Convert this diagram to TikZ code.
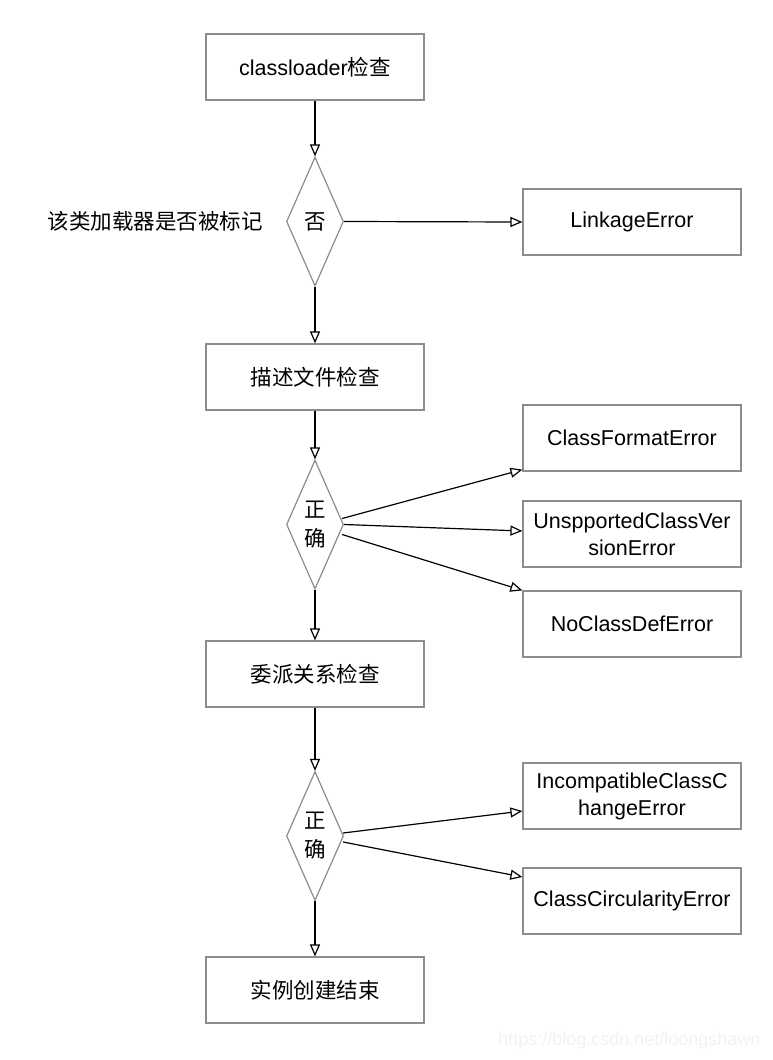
\documentclass[tikz,border=0pt]{standalone}
\usepackage{fontspec}
\setmainfont{Liberation Sans}
\newfontfamily\cjk{Noto Sans CJK SC}
\usetikzlibrary{shapes.geometric,arrows.meta,calc}
\definecolor{boxgray}{RGB}{140,140,140}
\begin{document}
\begin{tikzpicture}[x=1pt,y=-1pt,
  every node/.style={font=\fontsize{21.5}{27}\selectfont},
  procbox/.style={draw=boxgray,line width=1.2pt,minimum width=218pt,minimum height=66pt,inner sep=0pt,align=center},
  decision/.style={draw=boxgray,line width=1.2pt,diamond,shape aspect=0.44,minimum width=57pt,minimum height=129pt,inner sep=0pt,align=center,font=\cjk\fontsize{21.5}{29}\selectfont},
  flow/.style={draw=black,line width=1.2pt,-{Triangle[open,length=12pt,width=10pt]}}
]
\useasboundingbox (0,0) rectangle (772,1060);
% main column
\node[procbox] (b1) at (315,67) {classloader{\cjk 检查}};
\node[decision] (d1) at (315,221.5) {否};
\node[procbox,font=\cjk\fontsize{21.5}{27}\selectfont] (b2) at (315,377) {描述文件检查};
\node[decision] (d2) at (315,524.5) {正\\确};
\node[procbox,font=\cjk\fontsize{21.5}{27}\selectfont] (b3) at (315,674) {委派关系检查};
\node[decision] (d3) at (315,836) {正\\确};
\node[procbox,font=\cjk\fontsize{21.5}{27}\selectfont] (b4) at (315,990) {实例创建结束};
% side label
\node[font=\cjk\fontsize{21.5}{27}\selectfont] (lbl) at (155,221) {该类加载器是否被标记};
% error boxes
\node[procbox] (e1) at (632,222) {LinkageError};
\node[procbox] (e2) at (632,438) {ClassFormatError};
\node[procbox] (e3) at (632,534) {UnspportedClassVer\\sionError};
\node[procbox] (e4) at (632,624) {NoClassDefError};
\node[procbox] (e5) at (632,796) {IncompatibleClassC\\hangeError};
\node[procbox] (e6) at (632,901) {ClassCircularityError};
% watermark
\node[text=black!5,font=\fontsize{18}{20}\selectfont,anchor=east] (wm) at (764,1041) {https://blog.csdn.net/loongshawn};
% main flow
\draw[flow] (b1.south) -- (d1.north);
\draw[flow] (d1.south) -- (b2.north);
\draw[flow] (b2.south) -- (d2.north);
\draw[flow] (d2.south) -- (b3.north);
\draw[flow] (b3.south) -- (d3.north);
\draw[flow] (d3.south) -- (b4.north);
% error flows
\draw[flow] (d1.east) -- (e1.west);
\draw[flow] ($(d2.east)+(-2,-6)$) -- ($(e2.south west)+(0,-2)$);
\draw[flow] (d2.east) -- ($(e3.west)+(0,-3)$);
\draw[flow] ($(d2.east)+(-2,10)$) -- (e4.north west);
\draw[flow] ($(d3.east)+(-1,-3)$) -- ($(e5.west)+(0,15)$);
\draw[flow] ($(d3.east)+(-1,6)$) -- ($(e6.west)+(0,-24)$);
\end{tikzpicture}
\end{document}
